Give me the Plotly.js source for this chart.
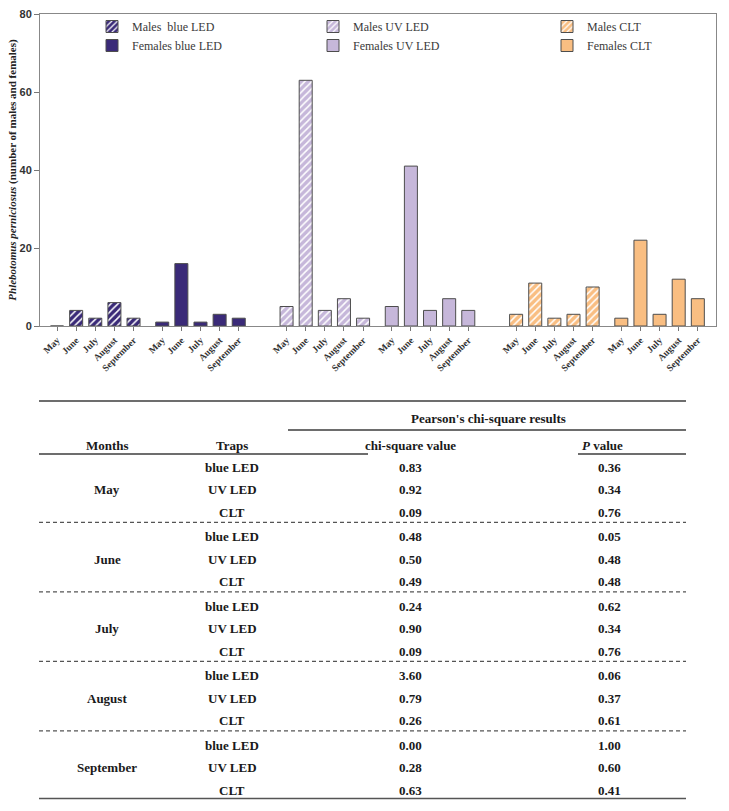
<!DOCTYPE html>
<html>
<head>
<meta charset="utf-8">
<script src="https://cdn.plot.ly/plotly-3.0.1.min.js"></script>
<style>html,body{margin:0;padding:0;background:#fff;}#chart{width:729px;height:811px;}</style>
</head>
<body>
<div id="chart"></div>
<script>
// ---------- Data ----------
const months = ['May', 'June', 'July', 'August', 'September'];
const malesBlueLED   = [0, 4, 2, 6, 2];
const femalesBlueLED = [1, 16, 1, 3, 2];
const malesUVLED     = [5, 63, 4, 7, 2];
const femalesUVLED   = [5, 41, 4, 7, 4];
const malesCLT       = [3, 11, 2, 3, 10];
const femalesCLT     = [2, 22, 3, 12, 7];
const seriesNames = ['Males  blue LED', 'Females blue LED', 'Males UV LED', 'Females UV LED', 'Males CLT', 'Females CLT'];

const tableMonths = ['May', 'June', 'July', 'August', 'September'];
const tableTraps = ['blue LED', 'UV LED', 'CLT'];
const chiSquareValues = ['0.83', '0.92', '0.09', '0.48', '0.50', '0.49', '0.24', '0.90', '0.09', '3.60', '0.79', '0.26', '0.00', '0.28', '0.63'];
const pValues = ['0.36', '0.34', '0.76', '0.05', '0.48', '0.48', '0.62', '0.34', '0.76', '0.06', '0.37', '0.61', '1.00', '0.60', '0.41'];

// ---------- Layout helpers ----------
const W = 729, H = 811, ML = 40, MR = 13, MT = 14, MB = 10;
const PW = W - ML - MR, PH = H - MT - MB;
const px = x => (x - ML) / PW;
const py = y => (H - MB - y) / PH;

const groupStart = [0, 5.5, 12, 17.5, 24, 29.5];
const xPos = g => months.map((m, i) => groupStart[g] + i);

const colBlue = '#3a2a78', colUV = '#c6b7da', colCLT = '#f9be82';
const barLine = {color: '#4d4d4d', width: 1};

const allSeries = [malesBlueLED, femalesBlueLED, malesUVLED, femalesUVLED, malesCLT, femalesCLT];
const colors = [colBlue, colBlue, colUV, colUV, colCLT, colCLT];
const legends = ['legend', 'legend', 'legend2', 'legend2', 'legend3', 'legend3'];

const traces = allSeries.map((vals, g) => {
  const marker = {color: colors[g], line: barLine};
  if (g % 2 === 0) marker.pattern = {shape: '/', fillmode: 'replace', bgcolor: colors[g], fgcolor: '#ffffff', size: 5, solidity: 0.3};
  return {
    type: 'bar', x: xPos(g), y: vals, name: seriesNames[g],
    width: 0.68, marker: marker, legend: legends[g], hoverinfo: 'x+y'
  };
});

// tick values/labels
const tickvals = [], ticktext = [];
for (let g = 0; g < 6; g++) xPos(g).forEach((v, i) => { tickvals.push(v); ticktext.push(months[i]); });

// ---------- Table ----------
const tfont = {family: 'Liberation Serif, Times New Roman, serif', size: 13, color: '#1a1a1a'};
const annotations = [];
const shapes = [];
const ann = (x, y, text) => annotations.push({xref: 'paper', yref: 'paper', x: px(x), y: py(y), text: text,
  showarrow: false, xanchor: 'center', yanchor: 'middle', font: tfont});
const hline = (x0, x1, y, dash, w, c) => shapes.push({type: 'line', xref: 'paper', yref: 'paper',
  x0: px(x0), x1: px(x1), y0: py(y), y1: py(y), line: {color: c || '#3c3c3c', width: w || 1.5, dash: dash || 'solid'}});

ann(488, 418, "<b>Pearson's chi-square results</b>");
ann(107, 445, '<b>Months</b>');
ann(232, 445, '<b>Traps</b>');
ann(410, 445, '<b>chi-square value</b>');
ann(602, 445, '<b><i>P</i> value</b>');

hline(39, 686, 401);
hline(288, 686, 430);
hline(39, 368, 454);
hline(578, 686, 454);

const rowBase = 467.3, groupStep = 69.5, rowStep = 22.4;
tableMonths.forEach((m, g) => {
  const y0 = rowBase + groupStep * g;
  ann(107, y0 + rowStep, '<b>' + m + '</b>');
  tableTraps.forEach((t, r) => {
    const y = y0 + rowStep * r;
    const k = g * 3 + r;
    ann(232, y, '<b>' + t + '</b>');
    ann(410, y, '<b>' + chiSquareValues[k] + '</b>');
    ann(609, y, '<b>' + pValues[k] + '</b>');
  });
  if (g < tableMonths.length - 1) hline(39, 686, 522.3 + groupStep * g, '4px,3px', 1.2, '#555');
});
hline(39, 686, 798.5, 'solid', 1.5, '#555');

// ---------- Layout ----------
const legFont = {family: 'Liberation Serif, Times New Roman, serif', size: 12, color: '#3a3a3a'};
const legBase = {yanchor: 'top', xanchor: 'left', y: py(12), bgcolor: 'rgba(0,0,0,0)', font: legFont,
  orientation: 'v', tracegroupgap: 0, itemwidth: 30};

const layout = {
  width: W, height: H,
  margin: {l: ML, r: MR, t: MT, b: MB},
  paper_bgcolor: '#ffffff', plot_bgcolor: '#ffffff',
  barmode: 'overlay',
  showlegend: true,
  legend: Object.assign({}, legBase, {x: px(92)}),
  legend2: Object.assign({}, legBase, {x: px(313)}),
  legend3: Object.assign({}, legBase, {x: px(547)}),
  xaxis: {
    domain: [0, 1], range: [-0.89, 34.45], tickvals: tickvals, ticktext: ticktext,
    tickangle: -45, ticks: 'outside', ticklen: 4, tickcolor: '#777', tickwidth: 1,
    tickfont: {family: 'Liberation Serif, Times New Roman, serif', size: 9.5, color: '#333', weight: 'bold'},
    showline: true, linecolor: '#888', linewidth: 1, mirror: true,
    showgrid: false, zeroline: false, automargin: false, fixedrange: true
  },
  yaxis: {
    domain: [py(326), 1], range: [0, 80], tickvals: [0, 20, 40, 60, 80],
    ticks: 'outside', ticklen: 5, tickcolor: '#777',
    tickfont: {family: 'Liberation Sans, Arial, sans-serif', size: 11, color: '#333', weight: 'bold'},
    showline: true, linecolor: '#888', linewidth: 1, mirror: true,
    showgrid: false, zeroline: false, automargin: false, fixedrange: true,
    title: {text: '<b><i>Phlebotomus perniciosus</i> (number of males and females)</b>', standoff: 0,
      font: {family: 'Liberation Serif, Times New Roman, serif', size: 11, color: '#222'}}
  },
  annotations: annotations,
  shapes: shapes
};

Plotly.newPlot('chart', traces, layout, {displayModeBar: false, staticPlot: true});
</script>
</body>
</html>
